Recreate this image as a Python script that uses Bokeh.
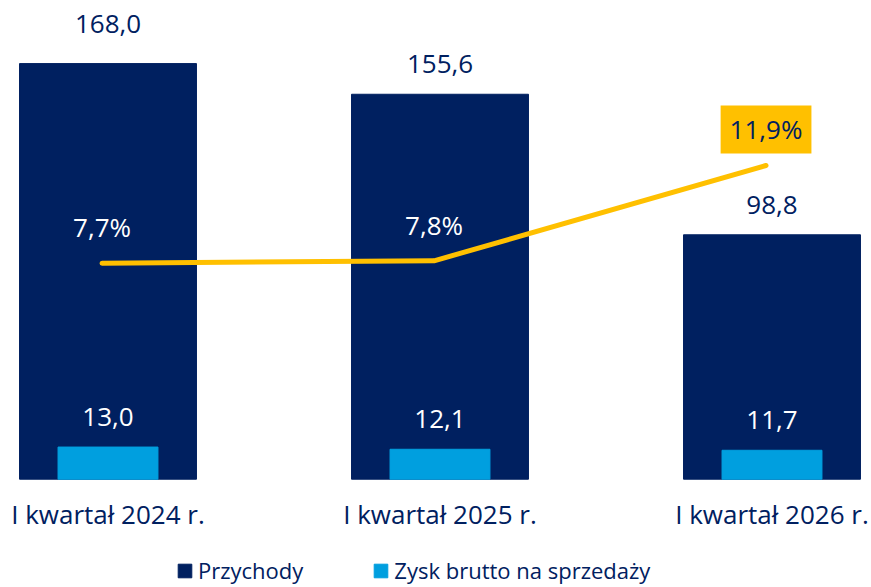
from bokeh.plotting import figure
from bokeh.models import ColumnDataSource, Range1d, LinearAxis, FixedTicker, Legend, LegendItem
from bokeh.transform import dodge
from bokeh.core.properties import value
from bokeh.embed import file_html
from bokeh.resources import INLINE

# ---- data ----
categories = ["I kwartał 2024 r.", "I kwartał 2025 r.", "I kwartał 2026 r."]
revenue = [168.0, 155.6, 98.8]
gross_profit = [13.0, 12.1, 11.7]
margin_pct = [7.7, 7.8, 11.9]
series_names = ["Przychody", "Zysk brutto na sprzedaży"]

# ---- styles ----
NAVY = "#002060"
BLUE = "#009FDF"
YELLOW = "#FFC000"
FONT = "Open Sans"
rev_label_offsets = [-40, -30, -30]
pct_text_colors = ["white", "white", NAVY]
pct_bg_alpha = [0, 0, 1]


def fmt(v):
    return f"{v:.1f}".replace(".", ",")


x = list(range(len(categories)))
src = ColumnDataSource(dict(
    x=x, revenue=revenue, profit=gross_profit, pct=margin_pct,
    rev_lbl=[fmt(v) for v in revenue],
    prof_lbl=[fmt(v) for v in gross_profit],
    pct_lbl=[fmt(v) + "%" for v in margin_pct],
    rev_off=rev_label_offsets,
    pct_color=pct_text_colors,
    pct_bg=pct_bg_alpha,
))

p = figure(width=871, height=587, output_backend="svg", toolbar_location=None,
           x_range=Range1d(-0.3238, 2.2997), y_range=Range1d(-43.77, 193.5),
           min_border=0, outline_line_color=None, x_axis_type=None, y_axis_type=None)
p.extra_y_ranges = {"pct": Range1d(-6.243, 18.993)}

xaxis = LinearAxis(ticker=FixedTicker(ticks=x), fixed_location=0,
                   major_label_overrides={i: c for i, c in enumerate(categories)},
                   axis_line_color=None, major_tick_line_color=None, minor_tick_line_color=None,
                   major_label_text_font=FONT, major_label_text_font_size="26px",
                   major_label_text_color=NAVY, major_label_standoff=11)
p.add_layout(xaxis, "below")

r_rev = p.vbar(x="x", top="revenue", width=0.533, source=src, color=NAVY)
r_prof = p.vbar(x="x", top="profit", width=0.301, source=src, color=BLUE)

line_x = dodge("x", -0.018)
p.line(x=line_x, y="pct", y_range_name="pct", source=src, line_color=YELLOW,
       line_width=5, line_cap="round", line_join="round")

p.text(x="x", y="revenue", text="rev_lbl", y_offset="rev_off", source=src,
       text_align="center", text_baseline="alphabetic", text_font=value(FONT),
       text_font_size="26px", text_color=NAVY)
p.text(x="x", y="profit", text="prof_lbl", y_offset=-30, source=src,
       text_align="center", text_baseline="alphabetic", text_font=value(FONT),
       text_font_size="26px", text_color="white")
p.text(x=line_x, y="pct", y_range_name="pct", text="pct_lbl", y_offset=-36, source=src,
       text_align="center", text_baseline="alphabetic", text_font=value(FONT),
       text_font_size="26px", text_color="pct_color",
       background_fill_color=YELLOW, background_fill_alpha="pct_bg", padding=(9, 6))

legend = Legend(items=[LegendItem(label=series_names[0], renderers=[r_rev]),
                       LegendItem(label=series_names[1], renderers=[r_prof])],
                orientation="horizontal", location=(176, 2),
                glyph_width=17, glyph_height=17, label_height=17, label_standoff=5,
                spacing=69, padding=0, margin=0, border_line_color=None,
                background_fill_alpha=0, label_text_font=FONT,
                label_text_font_size="22px", label_text_color=NAVY)
p.add_layout(legend, "center")

open("out.html", "w").write(file_html(p, INLINE))
